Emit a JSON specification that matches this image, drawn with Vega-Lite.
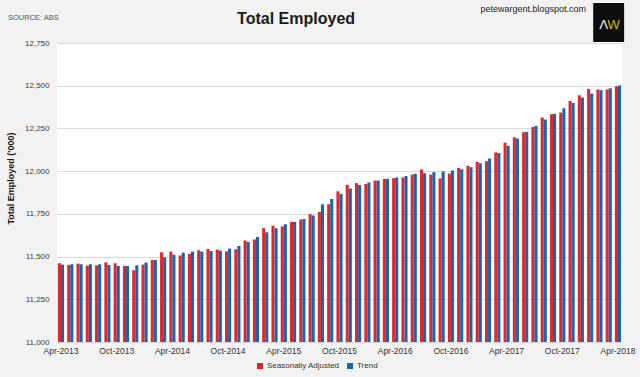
{
  "$schema": "https://vega.github.io/schema/vega-lite/v6.json",
  "autosize": {"type": "none"},
  "width": 565,
  "height": 299,
  "padding": {"left": 57, "top": 43, "right": 18, "bottom": 35},
  "background": "#f2f2f2",
  "config": {"view": {"fill": "white", "stroke": null}, "font": "Liberation Sans Narrow, Arial Narrow, Liberation Sans, sans-serif"},
  "layer": [
    {
      "data": {"values": [
        {"m":"Apr-2013","s":"Seasonally Adjusted","v":11461},{"m":"Apr-2013","s":"Trend","v":11453},
        {"m":"May-2013","s":"Seasonally Adjusted","v":11451},{"m":"May-2013","s":"Trend","v":11455},
        {"m":"Jun-2013","s":"Seasonally Adjusted","v":11459},{"m":"Jun-2013","s":"Trend","v":11455},
        {"m":"Jul-2013","s":"Seasonally Adjusted","v":11447},{"m":"Jul-2013","s":"Trend","v":11455},
        {"m":"Aug-2013","s":"Seasonally Adjusted","v":11449},{"m":"Aug-2013","s":"Trend","v":11455},
        {"m":"Sep-2013","s":"Seasonally Adjusted","v":11466},{"m":"Sep-2013","s":"Trend","v":11451},
        {"m":"Oct-2013","s":"Seasonally Adjusted","v":11461},{"m":"Oct-2013","s":"Trend","v":11445},
        {"m":"Nov-2013","s":"Seasonally Adjusted","v":11445},{"m":"Nov-2013","s":"Trend","v":11445},
        {"m":"Dec-2013","s":"Seasonally Adjusted","v":11420},{"m":"Dec-2013","s":"Trend","v":11449},
        {"m":"Jan-2014","s":"Seasonally Adjusted","v":11453},{"m":"Jan-2014","s":"Trend","v":11465},
        {"m":"Feb-2014","s":"Seasonally Adjusted","v":11480},{"m":"Feb-2014","s":"Trend","v":11480},
        {"m":"Mar-2014","s":"Seasonally Adjusted","v":11525},{"m":"Mar-2014","s":"Trend","v":11496},
        {"m":"Apr-2014","s":"Seasonally Adjusted","v":11529},{"m":"Apr-2014","s":"Trend","v":11511},
        {"m":"May-2014","s":"Seasonally Adjusted","v":11506},{"m":"May-2014","s":"Trend","v":11523},
        {"m":"Jun-2014","s":"Seasonally Adjusted","v":11516},{"m":"Jun-2014","s":"Trend","v":11529},
        {"m":"Jul-2014","s":"Seasonally Adjusted","v":11537},{"m":"Jul-2014","s":"Trend","v":11529},
        {"m":"Aug-2014","s":"Seasonally Adjusted","v":11545},{"m":"Aug-2014","s":"Trend","v":11533},
        {"m":"Sep-2014","s":"Seasonally Adjusted","v":11541},{"m":"Sep-2014","s":"Trend","v":11535},
        {"m":"Oct-2014","s":"Seasonally Adjusted","v":11531},{"m":"Oct-2014","s":"Trend","v":11547},
        {"m":"Nov-2014","s":"Seasonally Adjusted","v":11543},{"m":"Nov-2014","s":"Trend","v":11562},
        {"m":"Dec-2014","s":"Seasonally Adjusted","v":11594},{"m":"Dec-2014","s":"Trend","v":11586},
        {"m":"Jan-2015","s":"Seasonally Adjusted","v":11600},{"m":"Jan-2015","s":"Trend","v":11615},
        {"m":"Feb-2015","s":"Seasonally Adjusted","v":11666},{"m":"Feb-2015","s":"Trend","v":11642},
        {"m":"Mar-2015","s":"Seasonally Adjusted","v":11681},{"m":"Mar-2015","s":"Trend","v":11666},
        {"m":"Apr-2015","s":"Seasonally Adjusted","v":11677},{"m":"Apr-2015","s":"Trend","v":11689},
        {"m":"May-2015","s":"Seasonally Adjusted","v":11703},{"m":"May-2015","s":"Trend","v":11703},
        {"m":"Jun-2015","s":"Seasonally Adjusted","v":11717},{"m":"Jun-2015","s":"Trend","v":11720},
        {"m":"Jul-2015","s":"Seasonally Adjusted","v":11748},{"m":"Jul-2015","s":"Trend","v":11740},
        {"m":"Aug-2015","s":"Seasonally Adjusted","v":11761},{"m":"Aug-2015","s":"Trend","v":11806},
        {"m":"Sep-2015","s":"Seasonally Adjusted","v":11806},{"m":"Sep-2015","s":"Trend","v":11837},
        {"m":"Oct-2015","s":"Seasonally Adjusted","v":11882},{"m":"Oct-2015","s":"Trend","v":11867},
        {"m":"Nov-2015","s":"Seasonally Adjusted","v":11920},{"m":"Nov-2015","s":"Trend","v":11898},
        {"m":"Dec-2015","s":"Seasonally Adjusted","v":11930},{"m":"Dec-2015","s":"Trend","v":11919},
        {"m":"Jan-2016","s":"Seasonally Adjusted","v":11925},{"m":"Jan-2016","s":"Trend","v":11934},
        {"m":"Feb-2016","s":"Seasonally Adjusted","v":11945},{"m":"Feb-2016","s":"Trend","v":11945},
        {"m":"Mar-2016","s":"Seasonally Adjusted","v":11955},{"m":"Mar-2016","s":"Trend","v":11955},
        {"m":"Apr-2016","s":"Seasonally Adjusted","v":11959},{"m":"Apr-2016","s":"Trend","v":11963},
        {"m":"May-2016","s":"Seasonally Adjusted","v":11963},{"m":"May-2016","s":"Trend","v":11971},
        {"m":"Jun-2016","s":"Seasonally Adjusted","v":11980},{"m":"Jun-2016","s":"Trend","v":11985},
        {"m":"Jul-2016","s":"Seasonally Adjusted","v":12010},{"m":"Jul-2016","s":"Trend","v":11988},
        {"m":"Aug-2016","s":"Seasonally Adjusted","v":11980},{"m":"Aug-2016","s":"Trend","v":11994},
        {"m":"Sep-2016","s":"Seasonally Adjusted","v":11958},{"m":"Sep-2016","s":"Trend","v":11998},
        {"m":"Oct-2016","s":"Seasonally Adjusted","v":11986},{"m":"Oct-2016","s":"Trend","v":12004},
        {"m":"Nov-2016","s":"Seasonally Adjusted","v":12019},{"m":"Nov-2016","s":"Trend","v":12011},
        {"m":"Dec-2016","s":"Seasonally Adjusted","v":12031},{"m":"Dec-2016","s":"Trend","v":12023},
        {"m":"Jan-2017","s":"Seasonally Adjusted","v":12054},{"m":"Jan-2017","s":"Trend","v":12046},
        {"m":"Feb-2017","s":"Seasonally Adjusted","v":12058},{"m":"Feb-2017","s":"Trend","v":12074},
        {"m":"Mar-2017","s":"Seasonally Adjusted","v":12110},{"m":"Mar-2017","s":"Trend","v":12106},
        {"m":"Apr-2017","s":"Seasonally Adjusted","v":12167},{"m":"Apr-2017","s":"Trend","v":12148},
        {"m":"May-2017","s":"Seasonally Adjusted","v":12198},{"m":"May-2017","s":"Trend","v":12191},
        {"m":"Jun-2017","s":"Seasonally Adjusted","v":12228},{"m":"Jun-2017","s":"Trend","v":12230},
        {"m":"Jul-2017","s":"Seasonally Adjusted","v":12259},{"m":"Jul-2017","s":"Trend","v":12265},
        {"m":"Aug-2017","s":"Seasonally Adjusted","v":12314},{"m":"Aug-2017","s":"Trend","v":12302},
        {"m":"Sep-2017","s":"Seasonally Adjusted","v":12333},{"m":"Sep-2017","s":"Trend","v":12335},
        {"m":"Oct-2017","s":"Seasonally Adjusted","v":12343},{"m":"Oct-2017","s":"Trend","v":12368},
        {"m":"Nov-2017","s":"Seasonally Adjusted","v":12411},{"m":"Nov-2017","s":"Trend","v":12399},
        {"m":"Dec-2017","s":"Seasonally Adjusted","v":12444},{"m":"Dec-2017","s":"Trend","v":12431},
        {"m":"Jan-2018","s":"Seasonally Adjusted","v":12481},{"m":"Jan-2018","s":"Trend","v":12454},
        {"m":"Feb-2018","s":"Seasonally Adjusted","v":12478},{"m":"Feb-2018","s":"Trend","v":12474},
        {"m":"Mar-2018","s":"Seasonally Adjusted","v":12478},{"m":"Mar-2018","s":"Trend","v":12485},
        {"m":"Apr-2018","s":"Seasonally Adjusted","v":12497},{"m":"Apr-2018","s":"Trend","v":12501}
      ]},
      "mark": {"type": "bar"},
      "encoding": {
        "x": {"field": "m", "type": "ordinal", "sort": null,
          "scale": {"paddingInner": 0.34, "paddingOuter": 0.1},
          "axis": {"title": null, "values": ["Apr-2013","Oct-2013","Apr-2014","Oct-2014","Apr-2015","Oct-2015","Apr-2016","Oct-2016","Apr-2017","Oct-2017","Apr-2018"],
            "labelAngle": 0, "ticks": false, "domain": false, "labelFontSize": 8.5, "labelColor": "#333333", "labelPadding": 4}},
        "xOffset": {"field": "s", "type": "nominal", "sort": ["Seasonally Adjusted", "Trend"]},
        "y": {"field": "v", "type": "quantitative",
          "scale": {"domain": [11000, 12750], "zero": false, "nice": false},
          "axis": {"title": "Total Employed ('000)", "values": [11000,11250,11500,11750,12000,12250,12500,12750], "format": ",.0f",
            "ticks": false, "domain": false, "gridColor": "#d9d9d9", "labelFontSize": 8, "labelColor": "#404040", "labelPadding": 8,
            "titleFontSize": 9, "titleColor": "#1a1a1a", "titleFontWeight": "bold", "titlePadding": 9, "titleY": 135}},
        "y2": {"datum": 11000},
        "color": {"field": "s", "type": "nominal",
          "scale": {"domain": ["Seasonally Adjusted", "Trend"], "range": ["#e4262b", "#1765b0"]},
          "legend": {"orient": "none", "legendX": 199, "legendY": 319, "direction": "horizontal", "title": null, "symbolType": "square", "symbolSize": 36, "symbolStrokeWidth": 0, "labelFontSize": 8, "labelColor": "#333333", "columnPadding": 6, "labelOffset": 3}}
      }
    },
    {
      "data": {"values": [{"t": "Total Employed"}]},
      "mark": {"type": "text", "align": "center", "baseline": "middle", "fontSize": 16, "fontWeight": "bold", "color": "#1a1a1a", "dx": 3},
      "encoding": {"x": {"datum": "May-2015"}, "y": {"datum": 12890}, "text": {"field": "t"}}
    },
    {
      "data": {"values": [{"t": "SOURCE: ABS"}]},
      "mark": {"type": "text", "align": "left", "baseline": "middle", "fontSize": 7.5, "color": "#555555", "dx": -53},
      "encoding": {"x": {"datum": "Apr-2013"}, "y": {"datum": 12897}, "text": {"field": "t"}}
    },
    {
      "data": {"values": [{"t": "petewargent.blogspot.com"}]},
      "mark": {"type": "text", "align": "center", "baseline": "middle", "fontSize": 9, "color": "#222222", "dx": 8},
      "encoding": {"x": {"datum": "Jun-2017"}, "y": {"datum": 12950}, "text": {"field": "t"}}
    },
    {
      "data": {"values": [{"t": "logo"}]},
      "mark": {"type": "point", "filled": true, "shape": "M-0.8,-1L0.8,-1L0.8,1L-0.8,1Z", "size": 1600, "color": "#0d0d0d", "stroke": "#ffffff", "strokeWidth": 1, "opacity": 1},
      "encoding": {"x": {"datum": "Mar-2018"}, "y": {"datum": 12870}}
    },
    {
      "data": {"values": [{"t": "Λ"}]},
      "mark": {"type": "text", "align": "center", "baseline": "middle", "fontSize": 13, "color": "#f0f0f0", "dx": -5, "dy": 3, "font": "DejaVu Sans"},
      "encoding": {"x": {"datum": "Mar-2018"}, "y": {"datum": 12870}, "text": {"field": "t"}}
    },
    {
      "data": {"values": [{"t": "W"}]},
      "mark": {"type": "text", "align": "center", "baseline": "middle", "fontSize": 13, "color": "#d9b800", "dx": 5, "dy": 3, "font": "Liberation Sans, sans-serif"},
      "encoding": {"x": {"datum": "Mar-2018"}, "y": {"datum": 12870}, "text": {"field": "t"}}
    }
  ]
}
